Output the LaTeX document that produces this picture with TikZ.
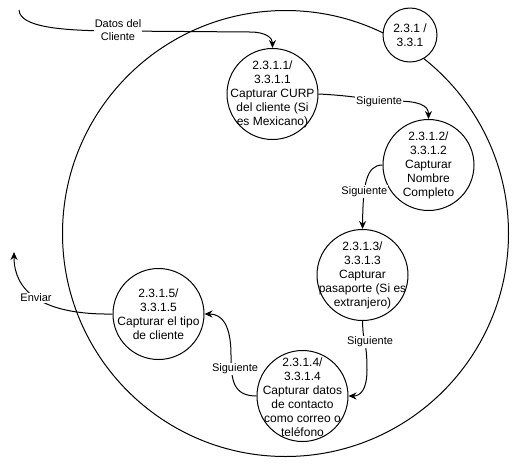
\documentclass[tikz,border=0pt]{standalone}
\usepackage{fontspec}
\setmainfont{Liberation Sans}
\usetikzlibrary{arrows.meta}
\tikzset{
  proc/.style={circle, draw=black, line width=1pt, fill=white, minimum size=91pt, inner sep=0pt},
  ptext/.style={align=center, inner sep=0pt, font=\fontsize{12}{14}\selectfont, text=black},
  elabel/.style={fill=white, inner sep=1pt, align=center, font=\fontsize{11}{13}\selectfont, text=black},
  flow/.style={line width=1pt, draw=black, -{Stealth[length=8pt,width=7pt]}},
}
\begin{document}
\begin{tikzpicture}[x=1pt,y=-1pt]
\useasboundingbox (0,0) rectangle (520,467);
\fill[white] (0,0) rectangle (520,467);

% big circle
\node[circle, draw=black, line width=1pt, minimum size=446pt, inner sep=0pt] (big) at (285.5,233.5) {};
% small circle
\node[circle, draw=black, line width=1pt, fill=white, minimum size=54pt, inner sep=0pt] (sc) at (410,35) {};
\node[ptext] (sct) at (sc) {2.3.1 /\\3.3.1};

% process circles
\node[proc] (c1) at (272.5,94) {};
\node[ptext] (t1) at (c1) {2.3.1.1/\\3.3.1.1\\Capturar CURP\\del cliente (Si\\es Mexicano)};
\node[proc] (c2) at (428.5,165) {};
\node[ptext] (t2) at (c2) {2.3.1.2/\\3.3.1.2\\Capturar\\Nombre\\Completo};
\node[proc] (c3) at (362.5,275) {};
\node[ptext] (t3) at (c3) {2.3.1.3/\\3.3.1.3\\Capturar\\pasaporte (Si es\\extranjero)};
\node[proc] (c4) at (302.5,396) {};
\node[ptext] (t4) at ([yshift=-1pt]c4) {2.3.1.4/\\3.3.1.4\\Capturar datos\\de contacto\\como correo o\\teléfono};
\node[proc] (c5) at (158.5,314) {};
\node[ptext] (t5) at (c5) {2.3.1.5/\\3.3.1.5\\Capturar el tipo\\de cliente};

\coordinate (src) at (19,10);
\coordinate (out) at (14,252);

% Datos del Cliente
\draw[flow] (src) .. controls (20,27) and (60,31) .. (120,31) -- (250,32)
  .. controls (266,32) and (272.5,38) .. (c1.north);
\node[elabel] (l1) at (118,30) {Datos del\\Cliente};

% c1 -> c2
\draw[flow] (c1.east) .. controls (360,96) and (372,101) .. (395,101)
  .. controls (418,101) and (428.5,105) .. (c2.north);
\node[elabel] (l2) at (379,102) {Siguiente};

% c2 -> c3
\draw[flow] (c2.west) .. controls (366,165) and (363,185) .. (c3.north)
  node[elabel, pos=0.65] (l3) {Siguiente};

% c3 -> c4
\draw[flow] (c3.south) .. controls (363,345) and (367,340) .. (367,370)
  .. controls (367,390) and (360,396) .. (c4.east);
\node[elabel] (l4) at (370,342) {Siguiente};

% c4 -> c5
\draw[flow] (c4.west) .. controls (233,396) and (231,380) .. (231,355)
  .. controls (231,325) and (222,314) .. (c5.east);
\node[elabel] (l5) at (235,369) {Siguiente};

% c5 -> out
\draw[flow] (c5.west) .. controls (40,315) and (14,290) .. (out)
  node[elabel, pos=0.5] (l6) {Enviar};
\end{tikzpicture}
\end{document}
